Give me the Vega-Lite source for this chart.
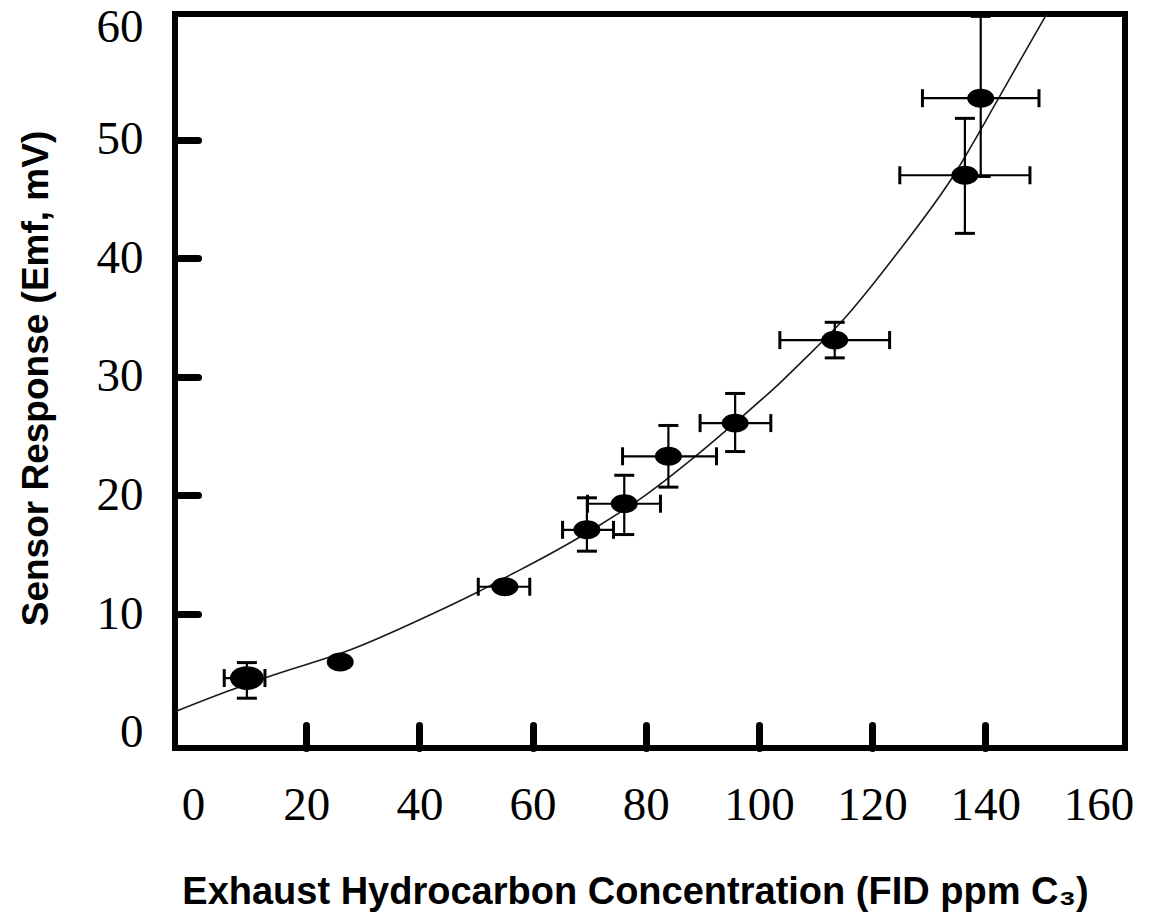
{
  "$schema": "https://vega.github.io/schema/vega-lite/v6.json",
  "width": 950,
  "height": 734,
  "autosize": {"type": "none"},
  "padding": {"left": 175, "top": 14, "right": 24, "bottom": 166},
  "background": "white",
  "config": {
    "view": {"stroke": "black", "strokeWidth": 6}
  },
  "datasets": {
    "points": [
      {"x": 9.5, "y": 4.6, "xlo": 5.5, "xhi": 12.7, "ylo": 2.9, "yhi": 5.9},
      {"x": 26.0, "y": 5.95, "xlo": null, "xhi": null, "ylo": null, "yhi": null},
      {"x": 55.1, "y": 12.3, "xlo": 50.4, "xhi": 59.5, "ylo": null, "yhi": null},
      {"x": 69.6, "y": 17.1, "xlo": 65.3, "xhi": 74.3, "ylo": 15.3, "yhi": 19.8},
      {"x": 76.2, "y": 19.3, "xlo": 69.7, "xhi": 82.6, "ylo": 16.7, "yhi": 21.7},
      {"x": 84.0, "y": 23.3, "xlo": 75.9, "xhi": 92.5, "ylo": 20.7, "yhi": 25.9},
      {"x": 95.8, "y": 26.1, "xlo": 89.6, "xhi": 102.1, "ylo": 23.7, "yhi": 28.6},
      {"x": 113.4, "y": 33.1, "xlo": 103.7, "xhi": 123.1, "ylo": 31.6, "yhi": 34.6},
      {"x": 136.4, "y": 47.0, "xlo": 124.9, "xhi": 147.9, "ylo": 42.1, "yhi": 51.8},
      {"x": 139.2, "y": 53.5, "xlo": 128.9, "xhi": 149.5, "ylo": 46.9, "yhi": 60.4}
    ],
    "curve": [
      {"x": -3.2, "y": 1.76},
      {"x": 6.2, "y": 3.5},
      {"x": 14.2, "y": 4.85},
      {"x": 27.7, "y": 6.96},
      {"x": 42.5, "y": 10.06},
      {"x": 50.4, "y": 11.88},
      {"x": 56.6, "y": 13.43},
      {"x": 60.1, "y": 14.3},
      {"x": 71.9, "y": 17.51},
      {"x": 79.6, "y": 19.9},
      {"x": 88.7, "y": 23.27},
      {"x": 95.8, "y": 26.14},
      {"x": 104.3, "y": 29.75},
      {"x": 107.2, "y": 31.1},
      {"x": 114.9, "y": 34.81},
      {"x": 124.9, "y": 40.72},
      {"x": 134.3, "y": 46.9},
      {"x": 142.6, "y": 53.7},
      {"x": 150.8, "y": 60.55}
    ]
  },
  "layer": [
    {
      "data": {"name": "curve"},
      "mark": {"type": "line", "color": "#1a1a1a", "strokeWidth": 1.6, "interpolate": "monotone", "clip": true},
      "encoding": {
        "x": {
          "field": "x", "type": "quantitative",
          "scale": {"domain": [-3.2, 164.7], "nice": false, "zero": false},
          "axis": {
            "orient": "bottom",
            "values": [0, 20, 40, 60, 80, 100, 120, 140, 160],
            "title": "Exhaust Hydrocarbon Concentration (FID ppm C₃)",
            "titleFont": "Liberation Sans", "titleFontWeight": "bold", "titleFontSize": 38, "titleColor": "black",
            "titleX": 460, "titleY": 155, "titleBaseline": "alphabetic",
            "labelFont": "Liberation Serif", "labelFontSize": 47, "labelColor": "black",
            "labelPadding": 94, "labelBaseline": "alphabetic", "labelFlush": false, "labelOverlap": false, "labelBound": false,
            "tickSize": -23, "tickWidth": 7, "tickCap": "round",
            "tickColor": {"condition": {"test": "datum.value == 0 || datum.value == 160", "value": "transparent"}, "value": "black"},
            "domain": false, "grid": false
          }
        },
        "y": {
          "field": "y", "type": "quantitative",
          "scale": {"domain": [-1.3, 60.6], "nice": false, "zero": false},
          "axis": {
            "orient": "left",
            "values": [0, 10, 20, 30, 40, 50, 60],
            "title": "Sensor Response (Emf, mV)",
            "titleFont": "Liberation Sans", "titleFontWeight": "bold", "titleFontSize": 37, "titleColor": "black",
            "titleX": -128, "titleY": 364, "titleBaseline": "alphabetic", "titleAngle": -90,
            "labelFont": "Liberation Serif", "labelFontSize": 47, "labelColor": "black",
            "labelPadding": 55, "labelFlush": false, "labelOverlap": false, "labelBound": false,
            "labelOffset": {"condition": {"test": "datum.value == 60", "value": 6}, "value": 0},
            "tickSize": -23, "tickWidth": 7, "tickCap": "round",
            "tickColor": {"condition": {"test": "datum.value == 0 || datum.value == 60", "value": "transparent"}, "value": "black"},
            "domain": false, "grid": false
          }
        }
      }
    },
    {
      "data": {"name": "points"},
      "transform": [{"filter": "isValid(datum.xlo)"}],
      "mark": {"type": "rule", "color": "black", "strokeWidth": 2.2},
      "encoding": {
        "x": {"field": "xlo", "type": "quantitative"},
        "x2": {"field": "xhi"},
        "y": {"field": "y", "type": "quantitative"}
      }
    },
    {
      "data": {"name": "points"},
      "transform": [{"filter": "isValid(datum.ylo)"}],
      "mark": {"type": "rule", "color": "black", "strokeWidth": 2.2},
      "encoding": {
        "x": {"field": "x", "type": "quantitative"},
        "y": {"field": "ylo", "type": "quantitative"},
        "y2": {"field": "yhi"}
      }
    },
    {
      "data": {"name": "points"},
      "transform": [{"filter": "isValid(datum.xlo)"}],
      "mark": {"type": "tick", "orient": "vertical", "color": "black", "size": 18, "thickness": 3, "opacity": 1},
      "encoding": {
        "x": {"field": "xlo", "type": "quantitative"},
        "y": {"field": "y", "type": "quantitative"}
      }
    },
    {
      "data": {"name": "points"},
      "transform": [{"filter": "isValid(datum.xhi)"}],
      "mark": {"type": "tick", "orient": "vertical", "color": "black", "size": 18, "thickness": 3, "opacity": 1},
      "encoding": {
        "x": {"field": "xhi", "type": "quantitative"},
        "y": {"field": "y", "type": "quantitative"}
      }
    },
    {
      "data": {"name": "points"},
      "transform": [{"filter": "isValid(datum.ylo)"}],
      "mark": {"type": "tick", "orient": "horizontal", "color": "black", "size": 20, "thickness": 3, "opacity": 1},
      "encoding": {
        "x": {"field": "x", "type": "quantitative"},
        "y": {"field": "ylo", "type": "quantitative"}
      }
    },
    {
      "data": {"name": "points"},
      "transform": [{"filter": "isValid(datum.yhi)"}],
      "mark": {"type": "tick", "orient": "horizontal", "color": "black", "size": 20, "thickness": 3, "opacity": 1},
      "encoding": {
        "x": {"field": "x", "type": "quantitative"},
        "y": {"field": "yhi", "type": "quantitative"}
      }
    },
    {
      "data": {"name": "points"},
      "mark": {"type": "point", "filled": true, "color": "black", "opacity": 1, "shape": "M-1,0 A1,0.7 0 1,1 1,0 A1,0.7 0 1,1 -1,0 Z"},
      "encoding": {
        "x": {"field": "x", "type": "quantitative"},
        "y": {"field": "y", "type": "quantitative"},
        "size": {"condition": {"test": "datum.x < 15", "value": 1150}, "value": 729}
      }
    }
  ]
}
